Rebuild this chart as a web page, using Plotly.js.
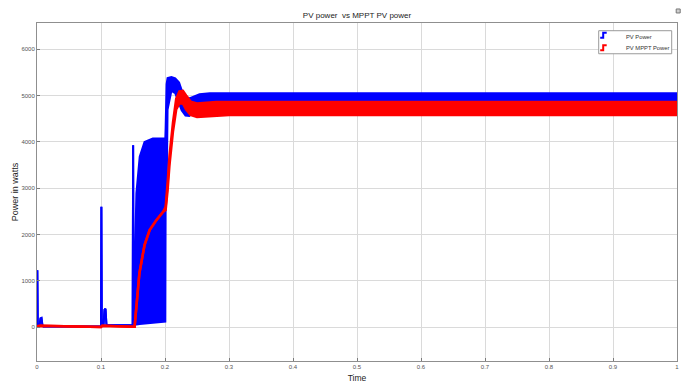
<!DOCTYPE html>
<html>
<head>
<meta charset="utf-8">
<script src="https://cdn.plot.ly/plotly-3.0.1.min.js"></script>
<style>html,body{margin:0;padding:0;background:#fff;}#chart{width:692px;height:385px;}</style>
</head>
<body>
<div id="chart"></div>
<script>
// ---- data ----
const seriesNames = ['PV Power', 'PV MPPT Power'];

const blueTime  = [0, 0.0005, 0.0012, 0.004, 0.0055, 0.007, 0.0085, 0.01, 0.1, 0.1006, 0.1012, 0.104, 0.1055, 0.107, 0.1085, 0.11, 0.1495, 0.1502, 0.1508, 0.152, 0.1535, 0.1553, 0.1605, 0.168, 0.181, 0.1995, 0.2005, 0.201, 0.2025, 0.204, 0.21, 0.216, 0.222, 0.226, 0.232, 0.238, 0.245, 0.254, 0.27, 0.3, 0.4, 0.5, 0.6, 0.7, 0.8, 0.9, 1.0];
const blueUpper = [0, 1230, 40, 30, 190, 200, 40, 15, 15, 2600, 40, 50, 380, 400, 60, 45, 45, 3930, 50, 800, 1900, 2890, 3680, 4000, 4075, 4080, 4080, 4300, 5250, 5380, 5400, 5370, 5280, 5120, 4980, 4940, 4980, 5030, 5050, 5050, 5050, 5050, 5050, 5050, 5050, 5050, 5050];
const blueLower = [0, 1230, 40, 30, 190, 200, 40, 15, 15, 2600, 40, 50, 380, 400, 60, 45, 45, 3930, 50, 55, 60, 60, 70, 80, 100, 120, 120, 2750, 2800, 4700, 5100, 5050, 4850, 4680, 4570, 4560, 4650, 4780, 4840, 4840, 4840, 4840, 4840, 4840, 4840, 4840, 4840];

const redTime  = [0, 0.005, 0.1, 0.102, 0.15, 0.1525, 0.16, 0.168, 0.176, 0.1865, 0.197, 0.201, 0.204, 0.207, 0.2125, 0.2175, 0.2225, 0.228, 0.233, 0.24, 0.25, 0.26, 0.28, 0.3, 0.4, 0.5, 0.6, 0.7, 0.8, 0.9, 1.0];
const redUpper = [20, 30, 5, 30, 10, 10, 1166, 1771, 2095, 2311, 2491, 2600, 3100, 3700, 4420, 4930, 5090, 5100, 5000, 4870, 4830, 4840, 4860, 4860, 4860, 4860, 4860, 4860, 4860, 4860, 4860];
const redLower = [20, 30, 5, 30, 10, 10, 1166, 1771, 2095, 2311, 2491, 2530, 2950, 3500, 4230, 4700, 4830, 4830, 4700, 4580, 4540, 4550, 4575, 4580, 4580, 4580, 4580, 4580, 4580, 4580, 4580];

const xTickVals = [0, 0.1, 0.2, 0.3, 0.4, 0.5, 0.6, 0.7, 0.8, 0.9, 1];
const xTickText = ['0', '0.1', '0.2', '0.3', '0.4', '0.5', '0.6', '0.7', '0.8', '0.9', '1'];
const yTickVals = [0, 1000, 2000, 3000, 4000, 5000, 6000];
const yTickText = ['0', '1000', '2000', '3000', '4000', '5000', '6000'];

const chartTitle = 'PV power  vs MPPT PV power';
const xTitle = 'Time';
const yTitle = 'Power in watts';

// ---- styling ----
const FONT = "'Liberation Sans', Arial, sans-serif";
const BLUE = '#0000ff', RED = '#ff0000';

const traces = [
  {x: blueTime, y: blueLower, type: 'scatter', mode: 'lines', line: {color: BLUE, width: 2}, showlegend: false, hoverinfo: 'skip'},
  {x: blueTime, y: blueUpper, type: 'scatter', mode: 'lines', line: {color: BLUE, width: 2}, fill: 'tonexty', fillcolor: BLUE, name: seriesNames[0], showlegend: false},
  {x: redTime, y: redLower, type: 'scatter', mode: 'lines', line: {color: RED, width: 2.5}, showlegend: false, hoverinfo: 'skip'},
  {x: redTime, y: redUpper, type: 'scatter', mode: 'lines', line: {color: RED, width: 2.5}, fill: 'tonexty', fillcolor: RED, name: seriesNames[1], showlegend: false}
];

// px -> paper helpers for the hand-made MATLAB style legend
const L = 37.3, R = 677.3, T = 23.3, B = 360.7;
const px = v => (v - L) / (R - L);
const py = v => (B - v) / (B - T);

const shapes = [
  {type: 'rect', xref: 'paper', yref: 'paper', x0: px(599), x1: px(672), y0: py(54), y1: py(31), line: {color: '#9a9a9a', width: 1}, fillcolor: '#ffffff', layer: 'above'},
  {type: 'path', xref: 'paper', yref: 'paper', path: `M${px(600.5)},${py(38)} L${px(603.5)},${py(38)} L${px(603.5)},${py(33)} L${px(607)},${py(33)}`, line: {color: BLUE, width: 2}, layer: 'above'},
  {type: 'path', xref: 'paper', yref: 'paper', path: `M${px(600.5)},${py(50.5)} L${px(603.5)},${py(50.5)} L${px(603.5)},${py(45.5)} L${px(607)},${py(45.5)}`, line: {color: RED, width: 2}, layer: 'above'},
  {type: 'rect', xref: 'paper', yref: 'paper', x0: px(676.5), x1: px(680.5), y0: py(13.3), y1: py(9.3), line: {color: '#777', width: 1}, fillcolor: '#cfcfcf', layer: 'above'}
];

const annotations = [
  {xref: 'paper', yref: 'paper', x: px(624), y: py(37), text: seriesNames[0], showarrow: false, xanchor: 'left', yanchor: 'middle', font: {family: FONT, size: 5.8, color: '#333'}},
  {xref: 'paper', yref: 'paper', x: px(624), y: py(48.7), text: seriesNames[1], showarrow: false, xanchor: 'left', yanchor: 'middle', font: {family: FONT, size: 5.8, color: '#333'}},
  {xref: 'paper', yref: 'paper', x: px(15.5), y: 0.5, text: yTitle, textangle: -90, showarrow: false, xanchor: 'center', yanchor: 'middle', font: {family: FONT, size: 9, color: '#222'}}
];

const axisCommon = {
  showgrid: true, gridcolor: '#dadada', gridwidth: 1,
  showline: true, linecolor: '#8f8f8f', linewidth: 1, mirror: true,
  ticks: 'inside', ticklen: 3, tickcolor: '#7a7a7a',
  zeroline: false, tickmode: 'array',
  tickfont: {family: FONT, size: 6, color: '#555'}
};

const layout = {
  width: 692, height: 385,
  margin: {l: 37.3, r: 14.7, t: 23.3, b: 24.3, pad: 0},
  paper_bgcolor: '#ffffff', plot_bgcolor: '#ffffff',
  font: {family: FONT, color: '#222'},
  title: {text: chartTitle, xref: 'paper', x: 0.5, xanchor: 'center', yref: 'container', y: 1 - 15.5 / 385, yanchor: 'middle', font: {family: FONT, size: 8, color: '#222'}},
  xaxis: Object.assign({}, axisCommon, {range: [0, 1], tickvals: xTickVals, ticktext: xTickText,
    title: {text: xTitle, font: {family: FONT, size: 8.5, color: '#222'}, standoff: 5}}),
  yaxis: Object.assign({}, axisCommon, {range: [-729, 6566], tickvals: yTickVals, ticktext: yTickText}),
  shapes: shapes,
  annotations: annotations,
  showlegend: false
};

Plotly.newPlot('chart', traces, layout, {displayModeBar: false, staticPlot: true});
</script>
</body>
</html>
